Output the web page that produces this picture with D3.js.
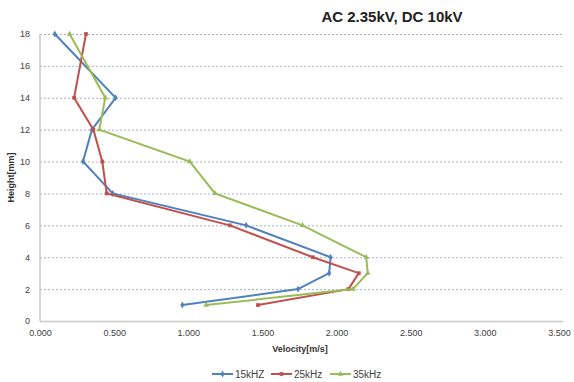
<!DOCTYPE html>
<html>
<head>
<meta charset="utf-8">
<script src="https://cdn.jsdelivr.net/npm/d3@7"></script>
<style>
body { margin: 0; background: #fff; }
text { font-family: "Liberation Sans", Arial, sans-serif; }
</style>
</head>
<body>
<script>
// heights (mm) at which velocity was measured
var heights = [18, 14, 12, 10, 8, 6, 4, 3, 2, 1];
var v15 = [0.10, 0.51, 0.35, 0.29, 0.49, 1.39, 1.96, 1.95, 1.74, 0.96];
var v25 = [0.31, 0.23, 0.36, 0.42, 0.45, 1.28, 1.84, 2.15, 2.08, 1.47];
var v35 = [0.20, 0.44, 0.40, 1.01, 1.18, 1.77, 2.20, 2.21, 2.11, 1.12];
var seriesNames = ["15kHZ", "25kHz", "35kHz"];
var xTicks = [0, 0.5, 1, 1.5, 2, 2.5, 3, 3.5];
var yTicks = [0, 2, 4, 6, 8, 10, 12, 14, 16, 18];

var colors = ["#4F81BD", "#C0504D", "#9BBB59"];
var shapes = [d3.symbolDiamond, d3.symbolSquare, d3.symbolTriangle];
var series = [v15, v25, v35].map(function(vals, i) {
    return {name: seriesNames[i], color: colors[i], shape: shapes[i],
        pts: vals.map(function(v, j) { return {x: v, y: heights[j]}; })};
});

var margin = {top: 34, right: 14, bottom: 61, left: 40},
    width = 574 - margin.left - margin.right,
    height = 382 - margin.top - margin.bottom;

var svg = d3.select("body").append("svg")
    .attr("width", 574).attr("height", 382);
var g = svg.append("g")
    .attr("transform", "translate(" + margin.left + "," + margin.top + ")");

var xScale = d3.scaleLinear().domain([0, 3.5]).range([0, 519]);
var yScale = d3.scaleLinear().domain([0, 18]).range([height, 0]);

// gridlines
g.selectAll("line.grid")
    .data(yTicks.filter(function(d) { return d > 0; }))
    .enter().append("line").attr("class", "grid")
    .attr("x1", 0).attr("x2", 523)
    .attr("y1", function(d) { return yScale(d) + 0.5; })
    .attr("y2", function(d) { return yScale(d) + 0.5; })
    .style("stroke", "#a8b0c0").style("stroke-width", 1)
    .style("stroke-dasharray", "2,2");

// axes
var xAxis = d3.axisBottom(xScale).tickValues(xTicks)
    .tickFormat(d3.format(".3f")).tickSize(0).tickPadding(9);
var yAxis = d3.axisLeft(yScale).tickValues(yTicks)
    .tickFormat(d3.format("d")).tickSize(0).tickPadding(10);

var gx = g.append("g").attr("transform", "translate(0," + height + ")").call(xAxis);
gx.select(".domain").remove();
gx.append("line").attr("x1", 0).attr("x2", 523).attr("y1", 0.5).attr("y2", 0.5)
    .style("stroke", "#c8c8c8").style("stroke-width", 1.5);
var gy = g.append("g").call(yAxis);
gy.select(".domain").remove();
gy.append("line").attr("x1", 0).attr("x2", 0).attr("y1", 0).attr("y2", height)
    .style("stroke", "#c8c8c8").style("stroke-width", 1.5);
svg.selectAll(".tick text").style("font-size", "9px").style("fill", "#404040");

// lines
var line = d3.line()
    .x(function(d) { return xScale(d.x); })
    .y(function(d) { return yScale(d.y); });

var sg = g.selectAll("g.series").data(series).enter().append("g").attr("class", "series");
sg.append("path")
    .attr("d", function(d) { return line(d.pts); })
    .style("fill", "none")
    .style("stroke", function(d) { return d.color; })
    .style("stroke-width", 2);
sg.selectAll("path.mk")
    .data(function(d) { return d.pts.map(function(p) { return {p: p, c: d.color, s: d.shape}; }); })
    .enter().append("path").attr("class", "mk")
    .attr("d", function(d) { return d3.symbol().type(d.s).size(14)(); })
    .attr("transform", function(d) {
        return "translate(" + xScale(d.p.x) + "," + yScale(d.p.y) + ")";
    })
    .style("fill", function(d) { return d.c; });

// titles
svg.append("text").attr("x", 392).attr("y", 22)
    .attr("text-anchor", "middle")
    .style("font-size", "15px").style("font-weight", "bold").style("fill", "#222")
    .text("AC 2.35kV, DC 10kV");
svg.append("text").attr("x", 300).attr("y", 352)
    .attr("text-anchor", "middle")
    .style("font-size", "9px").style("font-weight", "bold").style("fill", "#333")
    .text("Velocity[m/s]");
svg.append("text")
    .attr("transform", "translate(14," + (margin.top + height / 2) + ") rotate(-90)")
    .attr("text-anchor", "middle")
    .style("font-size", "9px").style("font-weight", "bold").style("fill", "#333")
    .text("Height[mm]");

// legend
var legX = [212, 271, 330];
var lg = svg.selectAll("g.leg").data(series).enter().append("g").attr("class", "leg")
    .attr("transform", function(d, i) { return "translate(" + legX[i] + ",374)"; });
lg.append("line").attr("x1", 0).attr("x2", 21).attr("y1", 0).attr("y2", 0)
    .style("stroke", function(d) { return d.color; }).style("stroke-width", 2);
lg.append("path")
    .attr("d", function(d) { return d3.symbol().type(d.shape).size(14)(); })
    .attr("transform", "translate(10.5,0)")
    .style("fill", function(d) { return d.color; });
lg.append("text").attr("x", 23).attr("y", 4)
    .style("font-size", "10px").style("fill", "#404040")
    .text(function(d) { return d.name; });
</script>
</body>
</html>
